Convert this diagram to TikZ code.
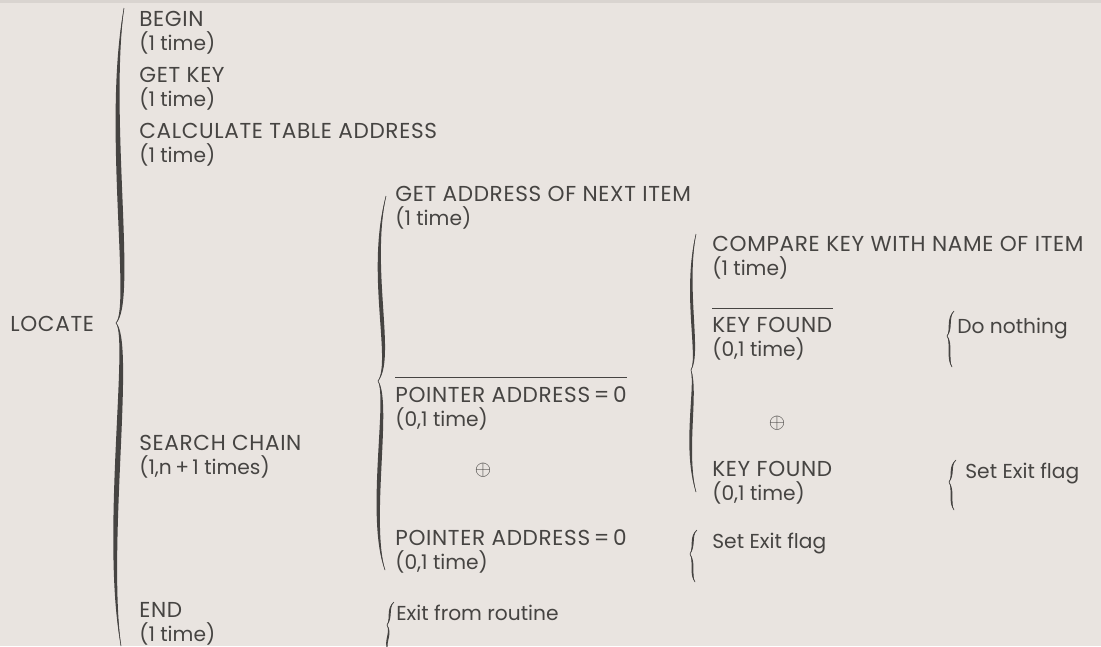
\documentclass[tikz,border=0pt]{standalone}
\usepackage{fontspec}
\setmainfont{Poppins}
\newfontfamily\capfont{Poppins}[LetterSpace=3]
\usetikzlibrary{calc}
\definecolor{paper}{RGB}{233,228,224}
\definecolor{ink}{RGB}{70,68,66}

% brace: width, top, ctrl, ctrl, tip, ctrl, ctrl, bottom
\newcommand{\wbrace}[8]{%
  \fill[ink] (#2) .. controls ($(#3)+(-#1,0)$) and ($(#4)+(-#1,0)$) .. (#5)
    .. controls ($(#6)+(-#1,0)$) and ($(#7)+(-#1,0)$) .. (#8)
    .. controls ($(#7)+(#1,0)$) and ($(#6)+(#1,0)$) .. (#5)
    .. controls ($(#4)+(#1,0)$) and ($(#3)+(#1,0)$) .. (#2);
  \draw[ink, line width=0.35pt] (#2) .. controls (#3) and (#4) .. (#5)
    .. controls (#6) and (#7) .. (#8);
}
\newcommand{\caps}[1]{{\capfont\fontsize{12.3}{13.1}\selectfont #1}}

\begin{document}
\begin{tikzpicture}[
    x=0.02cm, y=-0.02cm,
    item/.style={anchor=base west, align=left, inner sep=0pt, text=ink,
      font=\fontsize{11.5}{13.1}\selectfont},
    bar/.style={draw=ink, line width=0.6pt},
    alt/.style={text=ink, inner sep=0pt, font=\large}
  ]
    \fill[paper] (0,0) rectangle (1101,646);
    \fill[paper!93!black] (0,0) rectangle (1101,3);
    \useasboundingbox (0,0) rectangle (1101,646);

    \node[item] (locate) at (10,331) {\caps{LOCATE}};
    \node[item] (begin) at (139,50) {\caps{BEGIN}\\(1 time)};
    \node[item] (getkey) at (139,106) {\caps{GET KEY}\\(1 time)};
    \node[item] (calc) at (139,162) {\caps{CALCULATE TABLE ADDRESS}\\(1 time)};
    \node[item] (search) at (139,474) {\caps{SEARCH CHAIN}\\(1,n\,+\,1 times)};
    \node[item] (end) at (139,641) {\caps{END}\\(1 time)};

    \node[item] (getaddr) at (395,225) {\caps{GET ADDRESS OF NEXT ITEM}\\(1 time)};
    \node[item] (ptrnot) at (395,426) {\caps{POINTER ADDRESS\,=\,0}\\(0,1 time)};
    \node[item] (ptr) at (395,569) {\caps{POINTER ADDRESS\,=\,0}\\(0,1 time)};
    \node[item] (exit) at (396,620) {Exit from routine};
    \node[item] (setexitA) at (712,548) {Set Exit flag};
    \node[alt] (orA) at (483,470) {$\oplus$};

    \node[item] (compare) at (712,275) {\caps{COMPARE KEY WITH NAME OF ITEM}\\(1 time)};
    \node[item] (keynot) at (712,356) {\caps{KEY FOUND}\\(0,1 time)};
    \node[item] (key) at (712,500) {\caps{KEY FOUND}\\(0,1 time)};
    \node[alt] (orB) at (777,423) {$\oplus$};
    \node[item] (nothing) at (957,333) {Do nothing};
    \node[item] (setexitB) at (965,478) {Set Exit flag};

    \draw[bar] ([yshift=0.18cm]ptrnot.north west) -- ([yshift=0.18cm]ptrnot.north east);
    \draw[bar] ([yshift=0.18cm]keynot.north west) -- ([yshift=0.18cm]keynot.north east);

    \wbrace{3.4}{124,8}{106,120}{134,305}{116,323}{132,340}{104,540}{121,646}
    \wbrace{2.6}{386,196}{368,270}{394,360}{378,381}{390,400}{368,520}{385,570}
    \wbrace{2.0}{696,234}{684,290}{700,355}{691,370}{697,390}{684,450}{696,492}
    \wbrace{1.3}{954,311}{947,318}{952,330}{947,336}{952,342}{947,360}{952,367}
    \wbrace{1.3}{956,460}{949,466}{954,475}{949,482}{954,490}{949,503}{954,510}
    \wbrace{1.3}{697,530}{690,536}{695,546}{690,554}{695,562}{690,575}{695,582}
    \wbrace{1.3}{394,602}{387,608}{392,618}{387,625}{392,633}{384,642}{388,650}
  \end{tikzpicture}
\end{document}
